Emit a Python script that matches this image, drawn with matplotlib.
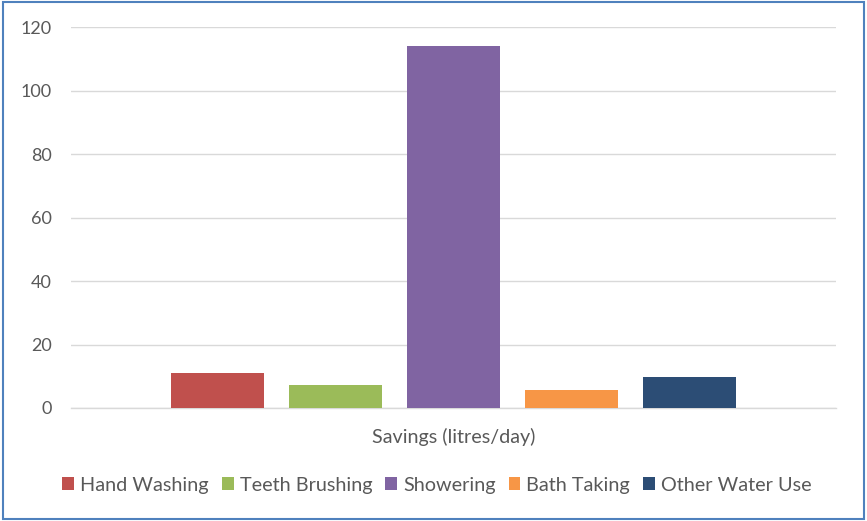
import matplotlib.pyplot as plt
from matplotlib.patches import Patch, Rectangle

# Data
category = "Savings (litres/day)"
series_names = ["Hand Washing", "Teeth Brushing", "Showering", "Bath Taking", "Other Water Use"]
savings = [11.1, 7.4, 114.0, 5.8, 9.9]
colors = ["#C0504D", "#9BBB59", "#8064A2", "#F79646", "#2C4D75"]
yticks = [0, 20, 40, 60, 80, 100, 120]

plt.rcParams['font.family'] = ['Lato', 'DejaVu Sans']
text_color = "#595959"

fig = plt.figure(figsize=(8.67, 5.21), dpi=100)
ax = fig.add_axes([0.0819, 0.2169, 0.9642 - 0.0819, 0.948 - 0.2169])

# bars of one category, spread around x = 0
step = 0.154
width = 0.1216
for i, (name, val, col) in enumerate(zip(series_names, savings, colors)):
    ax.bar((i - 2) * step, val, width=width, color=col, label=name, zorder=3)

ax.set_xlim(-0.5, 0.5)
ax.set_ylim(0, 120)
ax.set_yticks(yticks)
ax.set_xticks([0])
ax.set_xticklabels([category])
ax.tick_params(axis='y', length=0, pad=14, labelsize=13, labelcolor=text_color)
ax.tick_params(axis='x', length=0, pad=14, labelsize=14.2, labelcolor=text_color)
ax.grid(axis='y', color="#D9D9D9", linewidth=1.0, zorder=0)
for s in ["top", "right", "left"]:
    ax.spines[s].set_visible(False)
ax.spines["bottom"].set_color("#D9D9D9")
ax.spines["bottom"].set_linewidth(1.0)

# legend
handles = [Patch(facecolor=c, edgecolor='none') for c in colors]
fig.legend(handles, series_names, loc='center', bbox_to_anchor=(0.504, 0.069), ncol=5,
           frameon=False, fontsize=14.3, labelcolor=text_color, handlelength=0.6,
           handleheight=0.6, handletextpad=0.3, columnspacing=0.65)

# chart border
fig.patches.append(Rectangle((0.003, 0.004), 0.994, 0.992, transform=fig.transFigure,
                             fill=False, edgecolor="#4F81BD", linewidth=1.5))

fig.savefig("out.png", dpi=100)
